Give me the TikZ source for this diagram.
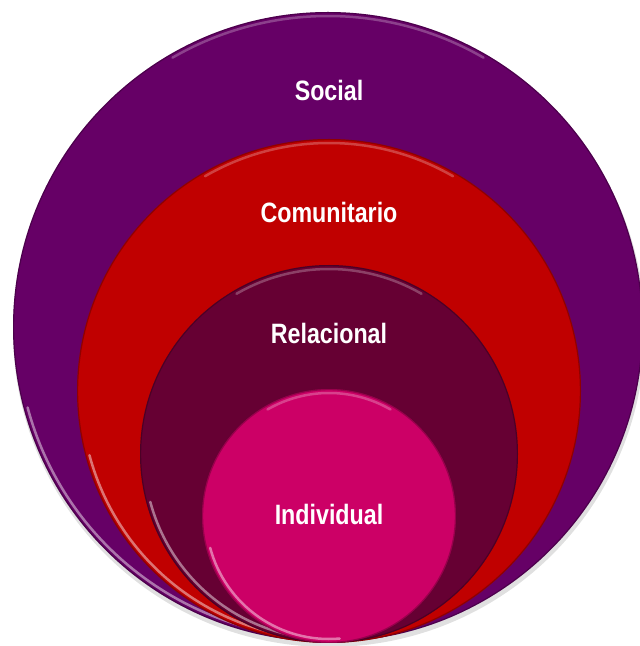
\documentclass[tikz,border=0pt]{standalone}
\usepackage{fontspec}
\setmainfont{Liberation Sans}[FakeStretch=0.83]
\usetikzlibrary{calc}

\definecolor{socialc}{HTML}{660066}
\definecolor{comunc}{HTML}{C00000}
\definecolor{relac}{HTML}{660033}
\definecolor{indivc}{HTML}{CC0066}

\begin{document}
\begin{tikzpicture}[x=1pt,y=1pt]
		\tikzstyle{ring}=[circle,inner sep=0pt,outer sep=0pt]
		\tikzstyle{rimlight}=[line width=2.5pt,line cap=round,white,opacity=0.45]
		\tikzstyle{rimdark}=[line width=1.2pt,black,opacity=0.25]
		\tikzstyle{lbl}=[white,font=\bfseries\fontsize{28}{30}\selectfont]

		\clip (0,0) rectangle (640,646);

		% shadow
		\fill[black,opacity=0.12] (329,315) circle (316);

		% rings
		\foreach \name/\col/\x/\y/\r in {S/socialc/328/319/315, C/comunc/329/255/252,
				R/relac/329/192/189, I/indivc/329/130/127}
		{
			\node[ring,fill=\col,minimum size=2*\r] (\name) at (\x,\y) {};
			\draw[rimdark] (\name.center) circle (\r-0.6);
			\draw[rimlight] ([shift={(195:\r-4)}]\name.center) arc[start angle=195,end angle=275,radius=\r-4];
			\draw[rimlight,opacity=0.25] ([shift={(60:\r-4)}]\name.center) arc[start angle=60,end angle=120,radius=\r-4];
		}

		% labels
		\foreach \name/\txt/\y in {Slbl/Social/556, Clbl/Comunitario/434,
				Rlbl/Relacional/313, Ilbl/Individual/132}
			\node[lbl] (\name) at (329,\y) {\txt};
	\end{tikzpicture}
\end{document}
